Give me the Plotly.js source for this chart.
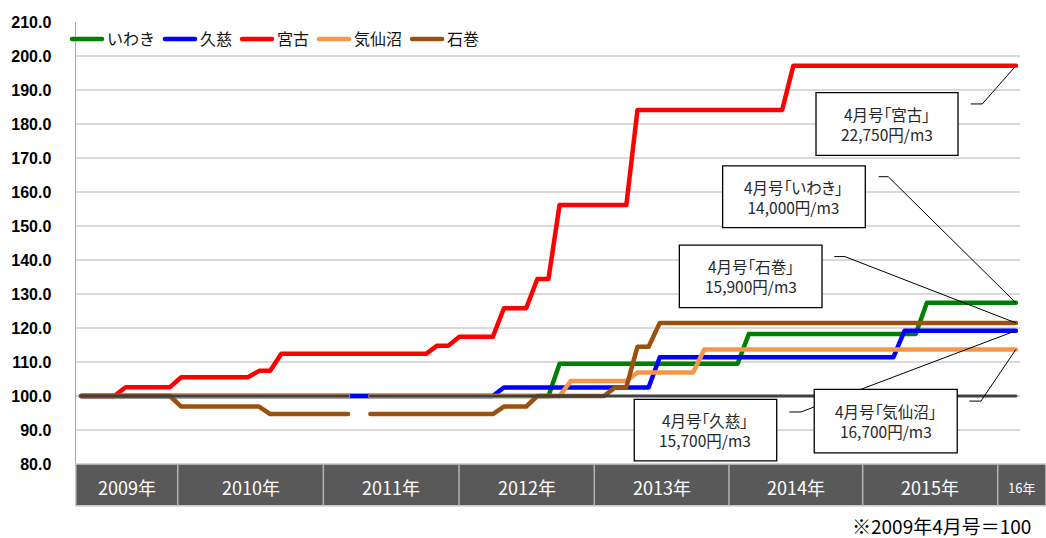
<!DOCTYPE html>
<html>
<head>
<meta charset="utf-8">
<script src="https://cdn.plot.ly/plotly-3.0.1.min.js"></script>
<style>
html,body{margin:0;padding:0;background:#fff;}
#chart{width:1046px;height:538px;}
.js-line{stroke-linecap:round;stroke-linejoin:round;}
.annotation-text{font-feature-settings:"palt" 1;}
</style>
</head>
<body>
<div id="chart"></div>
<script>
// ---- data (index 2009年4月号 = 100), monthly Apr 2009 – Apr 2016 ----
const months = [];
for (let i = 0; i < 85; i++) {
  const m = (3 + i) % 12 + 1, y = 2009 + Math.floor((3 + i) / 12);
  months.push(y + '/' + (m < 10 ? '0' + m : m));
}
const seriesNames = ['いわき', '久慈', '宮古', '気仙沼', '石巻'];

const iwaki = [
  100,100,100,100,100,100,100,100,100,
  100,100,100,100,100,100,100,100,100,100,100,100,
  100,100,100,100,100,100,100,100,100,100,100,100,
  100,100,100,100,100,100,100,100,100,100,109.5,109.5,
  109.5,109.5,109.5,109.5,109.5,109.5,109.5,109.5,109.5,109.5,109.5,109.5,
  109.5,109.5,109.5,118.2,118.2,118.2,118.2,118.2,118.2,118.2,118.2,118.2,
  118.2,118.2,118.2,118.2,118.2,118.2,118.2,127.4,127.4,127.4,127.4,127.4,
  127.4,127.4,127.4,127.4
];
const kuji = [
  100,100,100,100,100,100,100,100,100,
  100,100,100,100,100,100,100,100,100,100,100,100,
  100,100,100,100,100,100,100,100,100,100,100,100,
  100,100,100,100,100,102.5,102.5,102.5,102.5,102.5,102.5,102.5,
  102.5,102.5,102.5,102.5,102.5,102.5,102.5,111.4,111.4,111.4,111.4,111.4,
  111.4,111.4,111.4,111.4,111.4,111.4,111.4,111.4,111.4,111.4,111.4,111.4,
  111.4,111.4,111.4,111.4,111.4,119.2,119.2,119.2,119.2,119.2,119.2,119.2,
  119.2,119.2,119.2,119.2
];
const miyako = [
  100,100,100,100,102.6,102.6,102.6,102.6,102.6,
  105.5,105.5,105.5,105.5,105.5,105.5,105.5,107.4,107.4,112.4,112.4,112.4,
  112.4,112.4,112.4,112.4,112.4,112.4,112.4,112.4,112.4,112.4,112.4,114.8,
  114.8,117.4,117.4,117.4,117.4,125.8,125.8,125.8,134.4,134.4,156.2,156.2,
  156.2,156.2,156.2,156.2,156.2,184.1,184.1,184.1,184.1,184.1,184.1,184.1,
  184.1,184.1,184.1,184.1,184.1,184.1,184.1,197.1,197.1,197.1,197.1,197.1,
  197.1,197.1,197.1,197.1,197.1,197.1,197.1,197.1,197.1,197.1,197.1,197.1,
  197.1,197.1,197.1,197.1
];
const kesennuma = [
  100,100,100,100,100,100,100,100,100,
  100,100,100,100,100,100,100,100,100,100,100,100,
  100,100,100,100,null,100,100,100,100,100,100,100,
  100,100,100,100,100,100,100,100,100,100,100,104.4,
  104.4,104.4,104.4,104.4,104.4,106.9,106.9,106.9,106.9,106.9,106.9,113.7,
  113.7,113.7,113.7,113.7,113.7,113.7,113.7,113.7,113.7,113.7,113.7,113.7,
  113.7,113.7,113.7,113.7,113.7,113.7,113.7,113.7,113.7,113.7,113.7,113.7,
  113.7,113.7,113.7,113.7
];
const ishinomaki = [
  100,100,100,100,100,100,100,100,100,
  96.9,96.9,96.9,96.9,96.9,96.9,96.9,96.9,94.7,94.7,94.7,94.7,
  94.7,94.7,94.7,94.7,null,94.7,94.7,94.7,94.7,94.7,94.7,94.7,
  94.7,94.7,94.7,94.7,94.7,96.9,96.9,96.9,100,100,100,100,
  100,100,100,102.6,102.6,114.5,114.5,121.5,121.5,121.5,121.5,121.5,
  121.5,121.5,121.5,121.5,121.5,121.5,121.5,121.5,121.5,121.5,121.5,121.5,
  121.5,121.5,121.5,121.5,121.5,121.5,121.5,121.5,121.5,121.5,121.5,121.5,
  121.5,121.5,121.5,121.5
];
const baseline = [
  100,100,100,100,100,100,100,100,100,
  100,100,100,100,100,100,100,100,100,100,100,100,
  100,100,100,100,null,100,100,100,100,100,100,100,
  100,100,100,100,100,100,100,100,100,100,100,100,
  100,100,100,100,100,100,100,100,100,100,100,100,
  100,100,100,100,100,100,100,100,100,100,100,100,
  100,100,100,100,100,100,100,100,100,100,100,100,
  100,100,100,100
];
const yearLabels = ['2009年','2010年','2011年','2012年','2013年','2014年','2015年','16年'];
const calloutTitles = ['4月号「宮古」','4月号「いわき」','4月号「石巻」','4月号「久慈」','4月号「気仙沼」'];
const calloutPrices = ['22,750円/m3','14,000円/m3','15,900円/m3','15,700円/m3','16,700円/m3'];
const footnote = '※2009年4月号＝100';

// ---- styling / layout ----
const JP = 'Noto Sans CJK JP, sans-serif';
const seriesData = [iwaki, kuji, miyako, kesennuma, ishinomaki];
const seriesColors = ['#008000', '#0000ff', '#ff0000', '#f79646', '#9a500f'];

const traces = seriesData.map((arr, k) => ({
  type: 'scatter', mode: 'lines', x: months, y: arr, name: seriesNames[k],
  line: {color: seriesColors[k], width: 4.5}, connectgaps: false, hoverinfo: 'skip'
}));
traces.push({
  type: 'scatter', mode: 'lines', x: months, y: baseline, name: '100',
  showlegend: false, line: {color: '#404040', width: 3}, connectgaps: false, hoverinfo: 'skip'
});

const L = 76, R = 1020, T = 22, B = 464, W = 1046, H = 538;
const px2paperX = p => (p - L) / (R - L);
const px2paperY = p => (B - p) / (B - T);

const shapes = [];
const annotations = [];

// x band (year table)
const bandEdges = [75.7, 177.7, 323.3, 459, 594.3, 729, 862.7, 997.7, 1046];
const bandTop = 464, bandBot = 505.7;
shapes.push({type: 'rect', xref: 'paper', yref: 'paper',
  x0: px2paperX(bandEdges[0]), x1: px2paperX(bandEdges[bandEdges.length - 1]),
  y0: px2paperY(bandTop), y1: px2paperY(bandBot),
  fillcolor: '#595959', line: {color: '#c8c8c8', width: 1.5}, layer: 'above'});
for (let k = 1; k < bandEdges.length - 1; k++) {
  shapes.push({type: 'line', xref: 'paper', yref: 'paper',
    x0: px2paperX(bandEdges[k]), x1: px2paperX(bandEdges[k]),
    y0: px2paperY(bandTop), y1: px2paperY(bandBot),
    line: {color: '#b4b4b4', width: 1.5}, layer: 'above'});
}
yearLabels.forEach((t, k) => {
  annotations.push({xref: 'paper', yref: 'paper',
    x: px2paperX((bandEdges[k] + bandEdges[k + 1]) / 2), y: px2paperY(487),
    xanchor: 'center', yanchor: 'middle', showarrow: false, text: t,
    font: {family: JP, size: k === yearLabels.length - 1 ? 13 : 18, color: '#ffffff'}});
});

// footnote
annotations.push({xref: 'paper', yref: 'paper', x: px2paperX(1033), y: px2paperY(525),
  xanchor: 'right', yanchor: 'middle', showarrow: false, text: footnote,
  font: {family: JP, size: 19, color: '#000000'}});

// callouts: box [x0,x1,yBottom,yTop] in data units, elbow start/end
const lastIdx = months.length - 1;
const callouts = [
  {data: miyako,     box: [66.04, 78.80, 170.8, 189.2], elbow: [79.94, 80.98, 185.9]},
  {data: iwaki,      box: [57.65, 70.47, 149.5, 167.7], elbow: [71.67, 72.53, 164.5]},
  {data: ishinomaki, box: [53.76, 66.58, 126.0, 144.4], elbow: [67.68, 68.64, 141.0]},
  {data: kuji,       box: [49.71, 62.51, 80.9, 99.03],  elbow: [63.64, 64.69, 95.3]},
  {data: kesennuma,  box: [65.88, 78.73, 83.3, 101.97], elbow: [79.82, 80.86, 98.5]}
];
callouts.forEach((c, k) => {
  const endY = c.data[lastIdx];
  shapes.push({type: 'line', xref: 'x', yref: 'y', x0: c.elbow[0], x1: c.elbow[1],
    y0: c.elbow[2], y1: c.elbow[2], line: {color: '#000', width: 1}, layer: 'above'});
  shapes.push({type: 'line', xref: 'x', yref: 'y', x0: c.elbow[1], x1: lastIdx,
    y0: c.elbow[2], y1: endY, line: {color: '#000', width: 1}, layer: 'above'});
});
callouts.forEach((c, k) => {
  shapes.push({type: 'rect', xref: 'x', yref: 'y', x0: c.box[0], x1: c.box[1],
    y0: c.box[2], y1: c.box[3], fillcolor: '#ffffff',
    line: {color: '#000', width: 1.3}, layer: 'above'});
  const cx = (c.box[0] + c.box[1]) / 2, cy = (c.box[2] + c.box[3]) / 2;
  annotations.push({xref: 'x', yref: 'y', x: cx, y: cy, xanchor: 'center', yanchor: 'middle',
    showarrow: false, text: calloutTitles[k] + '<br>' + calloutPrices[k],
    font: {family: JP, size: 15.5, color: '#262626'}});
});

const layout = {
  width: W, height: H,
  margin: {l: L, r: W - R, t: T, b: H - B, pad: 0},
  paper_bgcolor: '#ffffff', plot_bgcolor: '#ffffff',
  font: {family: JP, color: '#000'},
  showlegend: true,
  legend: {orientation: 'h', x: px2paperX(67), xanchor: 'left', y: 1, yanchor: 'top',
    bgcolor: 'rgba(0,0,0,0)', font: {family: JP, size: 16, color: '#111'}, traceorder: 'normal'},
  xaxis: {type: 'category', range: [-0.45, 84.37], showticklabels: false, showgrid: false,
    zeroline: false, showline: false, ticks: '', fixedrange: true},
  yaxis: {range: [80, 210], dtick: 10, tick0: 80, tickformat: '.1f', showgrid: true,
    gridcolor: '#d9d9d9', gridwidth: 1.5, zeroline: false, showline: true,
    linecolor: '#a6a6a6', linewidth: 1.5, ticks: '', ticklabelstandoff: 20,
    tickfont: {family: 'Liberation Sans, Arial, sans-serif', size: 16, color: '#000', weight: 700},
    fixedrange: true},
  shapes: shapes,
  annotations: annotations
};

Plotly.newPlot('chart', traces, layout, {displayModeBar: false, staticPlot: true});
</script>
</body>
</html>
